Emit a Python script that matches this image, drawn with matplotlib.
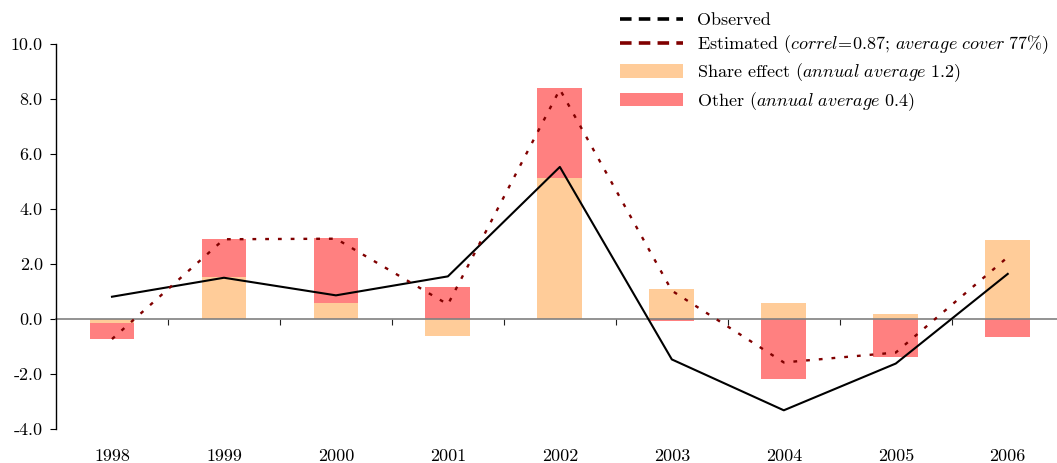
import numpy as np
import matplotlib
matplotlib.use("Agg")
import matplotlib.pyplot as plt
from matplotlib.lines import Line2D
from matplotlib.patches import Patch
from matplotlib.ticker import FixedLocator, FormatStrFormatter

plt.rcParams["font.family"] = "serif"
plt.rcParams["font.serif"] = ["cmr10", "DejaVu Serif"]
plt.rcParams["mathtext.fontset"] = "cm"
plt.rcParams["axes.unicode_minus"] = False
plt.rcParams["axes.formatter.use_mathtext"] = True

# data
years = ["1998", "1999", "2000", "2001", "2002", "2003", "2004", "2005", "2006"]
share_effect = [-0.13, 1.53, 0.59, -0.62, 5.14, 1.09, 0.58, 0.18, 2.87]
other = [-0.60, 1.38, 2.36, 1.16, 3.26, -0.06, -2.17, -1.37, -0.64]
observed = [0.81, 1.50, 0.86, 1.55, 5.53, -1.47, -3.32, -1.62, 1.64]
estimated = [-0.73, 2.90, 2.92, 0.53, 8.35, 1.03, -1.58, -1.22, 2.25]
yticks = [-4.0, -2.0, 0.0, 2.0, 4.0, 6.0, 8.0, 10.0]

c_share = "#FFCC99"
c_other = "#FF8080"
c_est = "#800000"

fig = plt.figure(figsize=(10.57, 4.63), dpi=100)
ax = fig.add_axes([56 / 1057, 34 / 463, 1 - 56 / 1057, 385 / 463])

x = np.arange(len(years))
w = 0.4

# stack positives up, negatives down
pos_base = np.zeros(len(years))
neg_base = np.zeros(len(years))
for vals, col in [(share_effect, c_share), (other, c_other)]:
    v = np.array(vals)
    bottom = np.where(v >= 0, pos_base, neg_base)
    ax.bar(x, v, w, bottom=bottom, color=col, linewidth=0, zorder=1)
    pos_base = pos_base + np.where(v >= 0, v, 0)
    neg_base = neg_base + np.where(v < 0, v, 0)

ax.plot(x, observed, color="black", lw=1.5, zorder=3)
ax.plot(x, estimated, color=c_est, lw=1.7, dashes=(1.6, 3.8), zorder=3)

ax.set_xlim(-0.5, 8.44)
ax.set_ylim(-4, 10)

# axes styling
for s in ["top", "right"]:
    ax.spines[s].set_visible(False)
ax.spines["bottom"].set_position(("data", 0))
ax.spines["bottom"].set_color("#808080")
ax.spines["bottom"].set_linewidth(1.2)
ax.spines["bottom"].set_zorder(2)
ax.spines["left"].set_linewidth(1.0)

ax.yaxis.set_major_locator(FixedLocator(yticks))
ax.yaxis.set_major_formatter(FormatStrFormatter("%.1f"))
ax.tick_params(axis="y", direction="out", length=4.5, width=0.8, pad=5, labelsize=13)

ax.set_xticks(np.arange(len(years) - 1) + 0.5)
ax.set_xticklabels([])
ax.tick_params(axis="x", direction="out", length=4.5, width=0.8, color="#222222")

sec = ax.secondary_xaxis(0.0)
sec.set_xticks(x)
sec.set_xticklabels(years)
sec.tick_params(length=0, pad=14, labelsize=13)
sec.spines["bottom"].set_visible(False)

handles = [
    Line2D([], [], color="black", lw=2.6, dashes=(3.2, 2.0)),
    Line2D([], [], color=c_est, lw=2.6, dashes=(3.2, 2.0)),
    Patch(facecolor=c_share, edgecolor="none"),
    Patch(facecolor=c_other, edgecolor="none"),
]
labels = [
    "Observed",
    r"Estimated ($\mathit{correl\!=\!0.87;\!\ average\ cover\ 77\%}$)",
    r"Share effect ($\mathit{annual\ average\ 1.2}$)",
    r"Other ($\mathit{annual\ average\ 0.4}$)",
]
fig.legend(handles, labels, loc="upper left", bbox_to_anchor=(620 / 1057, 1 - 12 / 463),
           frameon=False, fontsize=13, handlelength=3.5, handleheight=0.8,
           handletextpad=0.75, labelspacing=0.3, borderpad=0, borderaxespad=0)

fig.savefig("out.png", dpi=100)
